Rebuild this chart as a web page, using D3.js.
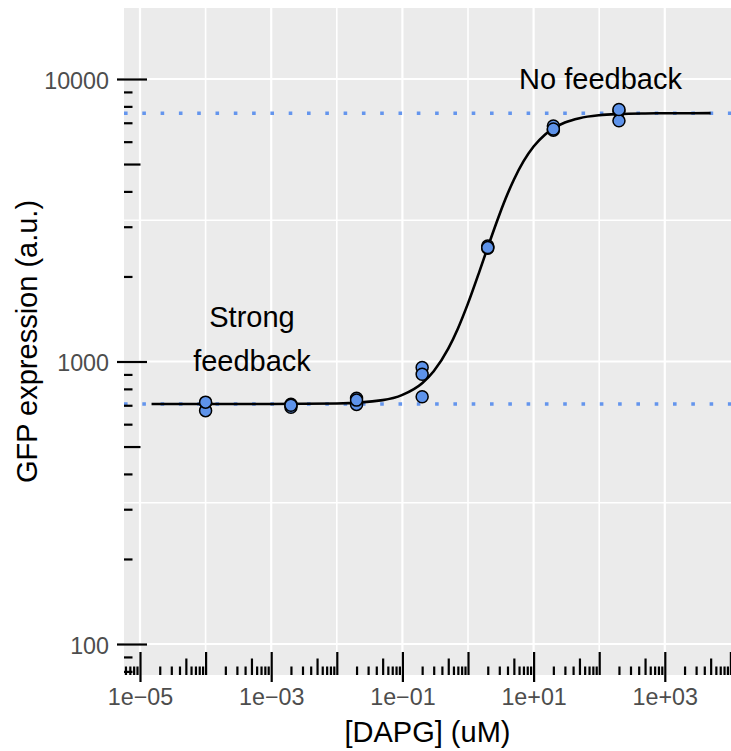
<!DOCTYPE html>
<html>
<head>
<meta charset="utf-8">
<script src="https://cdn.jsdelivr.net/npm/d3@7"></script>
<style>
  html, body { margin: 0; padding: 0; background: #ffffff; }
  svg text { font-family: "Liberation Sans", Arial, Helvetica, sans-serif; }
</style>
</head>
<body>
<svg id="chart" width="731" height="751"></svg>
<script>
// ---------- data ----------
const doseUM = [1e-4, 2e-3, 2e-2, 0.2, 2, 20, 200];
const rep1 = [714, 706, 741, 953, 2565, 6820, 7710];
const rep2 = [670, 689, 705, 901, 2516, 6590, 7110];
const rep3 = [718, 700, 730, 750, 2530, 6650, 7800];

// fitted curve
const fitX = [1.5e-5, 1e-4, 1e-3, 0.01, 0.05, 0.1, 0.2, 0.3, 0.5, 0.7, 1, 1.5, 2, 3, 4, 5, 7, 10, 15, 20, 30, 50, 100, 200, 500, 1000, 5000];
const fitY = [707, 707, 707, 710, 730, 762, 838, 924, 1111, 1307, 1606, 2090, 2537, 3302, 3913, 4399, 5106, 5765, 6366, 6687, 7013, 7267, 7441, 7516, 7553, 7563, 7569];

// reference levels (dotted)
const levels = [707, 7570];

// axis ticks
const xTickValues = [1e-5, 1e-3, 1e-1, 1e1, 1e3];
const xTickLabels = ["1e\u221205", "1e\u221203", "1e\u221201", "1e+01", "1e+03"];
const xMinorGrid = [1e-4, 1e-2, 1, 1e2];
const yTickValues = [100, 1000, 10000];
const yTickLabels = ["100", "1000", "10000"];
const yMinorGrid = [Math.pow(10, 2.5), Math.pow(10, 3.5)];
const xDecades = [-6, -5, -4, -3, -2, -1, 0, 1, 2, 3, 4];
const yDecades = [1, 2, 3, 4];
const shortMult = [2, 3, 4, 6, 7, 8, 9];
const midMult = [5];
const longMult = [1];

const annotations = [
  { text: "No feedback", x: 600.5, y: 89 },
  { text: "Strong", x: 252, y: 327 },
  { text: "feedback", x: 252, y: 371 }
];

// ---------- layout ----------
const svg = d3.select("#chart");
const P = { left: 124, top: 8, right: 731, bottom: 675 };
const xDomain = [Math.pow(10, -5.2439), Math.pow(10, 4.0091)];
const yDomain = [Math.pow(10, 1.8903), Math.pow(10, 4.2513)];

const x = d3.scaleLog().domain(xDomain).range([P.left, P.right]);
const y = d3.scaleLog().domain(yDomain).range([P.bottom, P.top]);

const inX = v => v >= xDomain[0] && v <= xDomain[1];
const inY = v => v >= yDomain[0] && v <= yDomain[1];
const build = (decs, mults, ok) => decs.flatMap(d => mults.map(m => m * Math.pow(10, d))).filter(ok);

// panel background
svg.append("rect")
  .attr("x", P.left).attr("y", P.top)
  .attr("width", P.right - P.left).attr("height", P.bottom - P.top)
  .attr("fill", "#EBEBEB");

svg.append("clipPath").attr("id", "clip")
  .append("rect")
  .attr("x", P.left).attr("y", P.top)
  .attr("width", P.right - P.left).attr("height", P.bottom - P.top);

const panel = svg.append("g").attr("clip-path", "url(#clip)");

// grid
const grid = panel.append("g").attr("stroke", "#FFFFFF");
grid.selectAll(".gxm").data(xMinorGrid).join("line")
  .attr("x1", d => x(d)).attr("x2", d => x(d))
  .attr("y1", P.top).attr("y2", P.bottom).attr("stroke-width", 1.6);
grid.selectAll(".gym").data(yMinorGrid).join("line")
  .attr("x1", P.left).attr("x2", P.right)
  .attr("y1", d => y(d)).attr("y2", d => y(d)).attr("stroke-width", 1.6);
grid.selectAll(".gx").data(xTickValues).join("line")
  .attr("x1", d => x(d)).attr("x2", d => x(d))
  .attr("y1", P.top).attr("y2", P.bottom).attr("stroke-width", 2.2);
grid.selectAll(".gy").data(yTickValues).join("line")
  .attr("x1", P.left).attr("x2", P.right)
  .attr("y1", d => y(d)).attr("y2", d => y(d)).attr("stroke-width", 2.2);

// dotted reference lines
panel.selectAll(".lvl").data(levels).join("line")
  .attr("x1", P.left).attr("x2", P.right)
  .attr("y1", d => y(d)).attr("y2", d => y(d))
  .attr("stroke", "#6495ED")
  .attr("stroke-width", 3.5)
  .attr("stroke-dasharray", "3.6 14.7");

// fitted curve
const fitData = fitX.map((v, i) => [v, fitY[i]]);
panel.append("path")
  .datum(fitData)
  .attr("fill", "none")
  .attr("stroke", "#000000")
  .attr("stroke-width", 2.6)
  .attr("d", d3.line().x(d => x(d[0])).y(d => y(d[1])).curve(d3.curveMonotoneX));

// points
const pts = [];
[rep1, rep2, rep3].forEach(rep => rep.forEach((v, i) => pts.push([doseUM[i], v])));
panel.selectAll(".pt").data(pts).join("circle")
  .attr("cx", d => x(d[0])).attr("cy", d => y(d[1]))
  .attr("r", 6)
  .attr("fill", "#5E93EA")
  .attr("stroke", "#000000")
  .attr("stroke-width", 1.5);

// log ticks (inside panel)
function logAxisBottom(vals, len) {
  const g = svg.append("g").attr("transform", `translate(0,${P.bottom})`)
    .call(d3.axisBottom(x).tickValues(vals).tickSize(-len).tickFormat(""));
  g.select(".domain").remove();
  g.selectAll("line").attr("stroke", "#000").attr("stroke-width", 2.2);
}
function logAxisLeft(vals, len) {
  const g = svg.append("g").attr("transform", `translate(${P.left},0)`)
    .call(d3.axisLeft(y).tickValues(vals).tickSize(-len).tickFormat(""));
  g.select(".domain").remove();
  g.selectAll("line").attr("stroke", "#000").attr("stroke-width", 2.2);
}
logAxisBottom(build(xDecades, shortMult, inX), 8.5);
logAxisBottom(build(xDecades, midMult, inX), 16.5);
logAxisBottom(build(xDecades, longMult, inX), 23);
logAxisLeft(build(yDecades, shortMult, inY), 8.5);
logAxisLeft(build(yDecades, midMult, inY), 16.5);
logAxisLeft(build(yDecades, longMult, inY), 23);

// labelled axes
const xa = svg.append("g").attr("transform", `translate(0,${P.bottom})`)
  .call(d3.axisBottom(x).tickValues(xTickValues).tickSize(7).tickPadding(6.5)
    .tickFormat((d, i) => xTickLabels[i]));
xa.select(".domain").remove();
xa.selectAll("line").attr("stroke", "#000").attr("stroke-width", 2.2);
xa.selectAll("text").attr("fill", "#4D4D4D").style("font-size", "23.3px")
  .style("font-family", '"Liberation Sans", Arial, sans-serif');

const ya = svg.append("g").attr("transform", `translate(${P.left},0)`)
  .call(d3.axisLeft(y).tickValues(yTickValues).tickSize(7).tickPadding(8)
    .tickFormat((d, i) => yTickLabels[i]));
ya.select(".domain").remove();
ya.selectAll("line").attr("stroke", "#000").attr("stroke-width", 2.2);
ya.selectAll("text").attr("fill", "#4D4D4D").attr("dy", "0.4em").style("font-size", "23.3px")
  .style("font-family", '"Liberation Sans", Arial, sans-serif');

// axis titles
svg.append("text")
  .attr("x", (P.left + P.right) / 2).attr("y", 742)
  .attr("text-anchor", "middle").attr("fill", "#000")
  .style("font-size", "29px")
  .text("[DAPG] (uM)");
svg.append("text")
  .attr("transform", `translate(37,${(P.top + P.bottom) / 2}) rotate(-90)`)
  .attr("text-anchor", "middle").attr("fill", "#000")
  .style("font-size", "29px")
  .text("GFP expression (a.u.)");

// annotations
svg.selectAll(".ann").data(annotations).join("text")
  .attr("x", d => d.x).attr("y", d => d.y)
  .attr("text-anchor", "middle").attr("fill", "#000")
  .style("font-size", "29px")
  .text(d => d.text);
</script>
</body>
</html>
